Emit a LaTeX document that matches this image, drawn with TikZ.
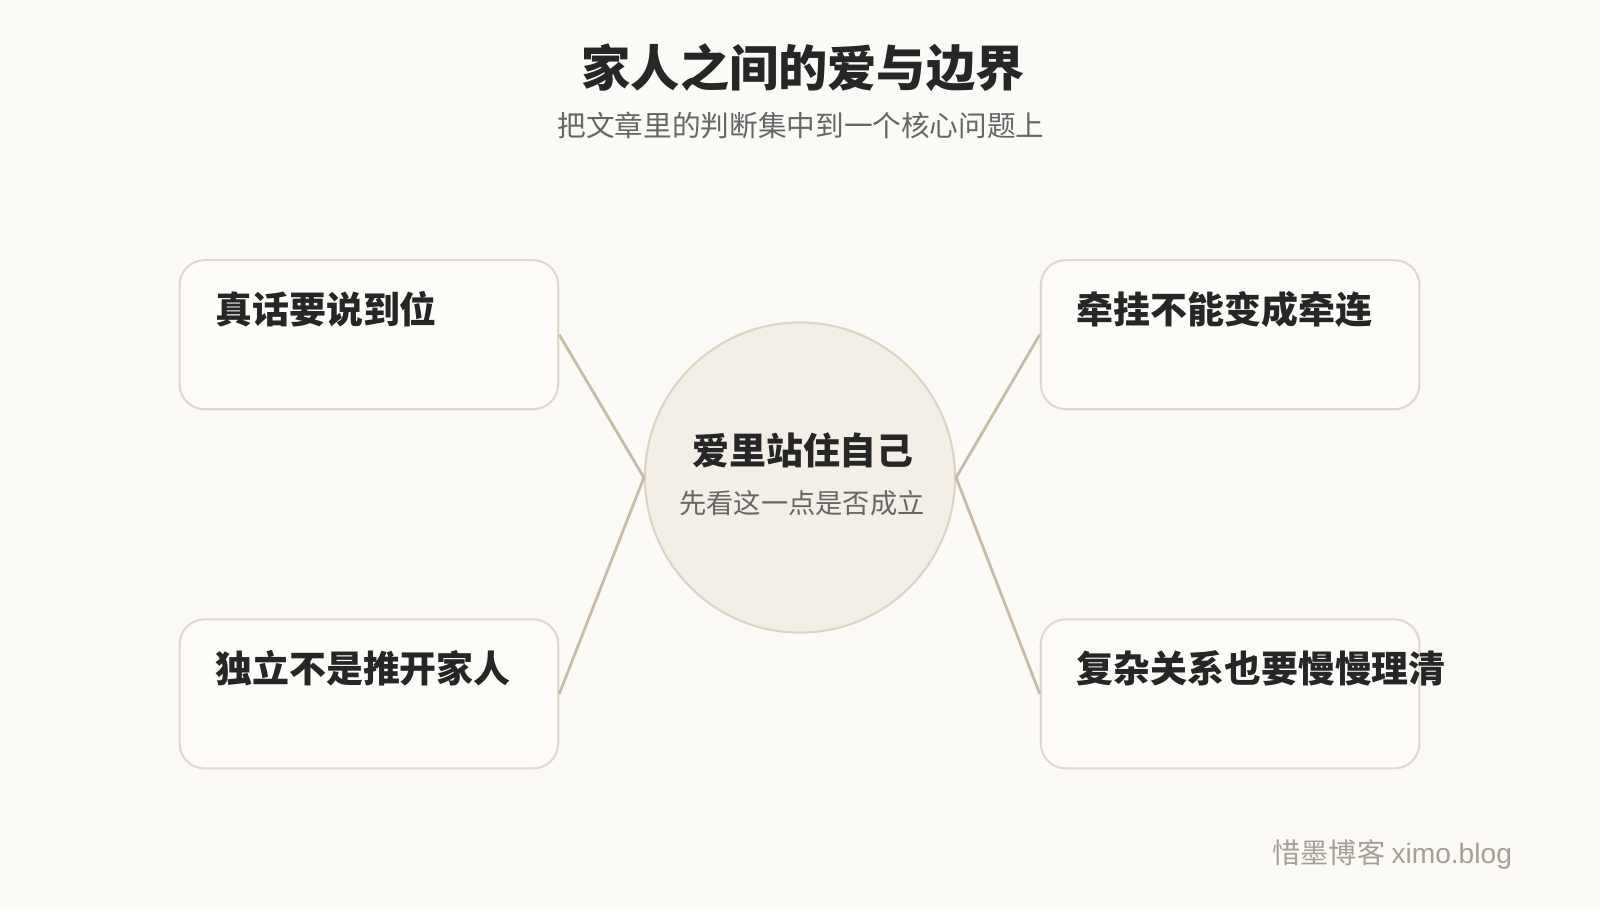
\documentclass[tikz,border=0pt]{standalone}
\usepackage{fontspec}
\setmainfont{Noto Sans CJK SC}
\newfontfamily\latinsans{Liberation Sans}
\usepackage{tikz}
\definecolor{paper}{RGB}{251,250,247}
\definecolor{boxfill}{RGB}{253,252,249}
\definecolor{boxline}{RGB}{225,217,204}
\definecolor{hubfill}{RGB}{243,239,231}
\definecolor{hubline}{RGB}{221,212,196}
\definecolor{spoke}{RGB}{200,188,168}
\definecolor{ink}{RGB}{38,38,38}
\definecolor{soft}{RGB}{102,102,102}
\definecolor{mark}{RGB}{165,159,148}
\tikzset{
  pointbox/.style={draw=boxline, fill=boxfill, line width=1.2pt, rounded corners=0.5cm,
    minimum width=7.57cm, minimum height=2.98cm, inner sep=0pt},
  pointtext/.style={anchor=west, inner sep=0pt, text=ink, font=\fontsize{21}{25}\selectfont\bfseries},
  hub/.style={circle, draw=hubline, fill=hubfill, line width=1.2pt, minimum size=6.2cm, inner sep=0pt},
  spokeline/.style={draw=spoke, line width=1.6pt}
}
\newcommand{\pointbox}[4]{
  \node[pointbox] (#1) at (#2,#3) {};
  \node[pointtext] (#1text) at ([xshift=0.73cm,yshift=0.51cm]#1.west) {#4};
}

\begin{document}
\begin{tikzpicture}[x=0.020408cm, y=-0.020408cm]
\fill[paper] (0,0) rectangle (1568,893);
\node[font=\fontsize{28}{33}\selectfont\bfseries, text=ink] (title) at (787,66) {家人之间的爱与边界};
\node[font=\fontsize{16.3}{20}\selectfont, text=soft] (subtitle) at (785,123) {把文章里的判断集中到一个核心问题上};
\node[hub] (core) at (784,468) {};
\node[font=\fontsize{21}{25}\selectfont\bfseries, text=ink] (coretitle) at (787,441) {爱里站住自己};
\node[font=\fontsize{15.5}{19}\selectfont, text=soft] (coresub) at (786,493) {先看这一点是否成立};
\pointbox{truth}{361.5}{328}{真话要说到位}
\pointbox{ties}{1205.5}{328}{牵挂不能变成牵连}
\pointbox{apart}{361.5}{680}{独立不是推开家人}
\pointbox{knots}{1205.5}{680}{复杂关系也要慢慢理清}
\draw[spokeline] (truth.east) -- (core.west);
\draw[spokeline] (apart.east) -- (core.west);
\draw[spokeline] (core.east) -- (ties.west);
\draw[spokeline] (core.east) -- (knots.west);
\node[anchor=east, inner sep=0pt, font=\fontsize{16}{19}\selectfont, text=mark] (brand) at (1482,837) {惜墨博客 {\latinsans ximo.blog}};
\end{tikzpicture}
\end{document}
